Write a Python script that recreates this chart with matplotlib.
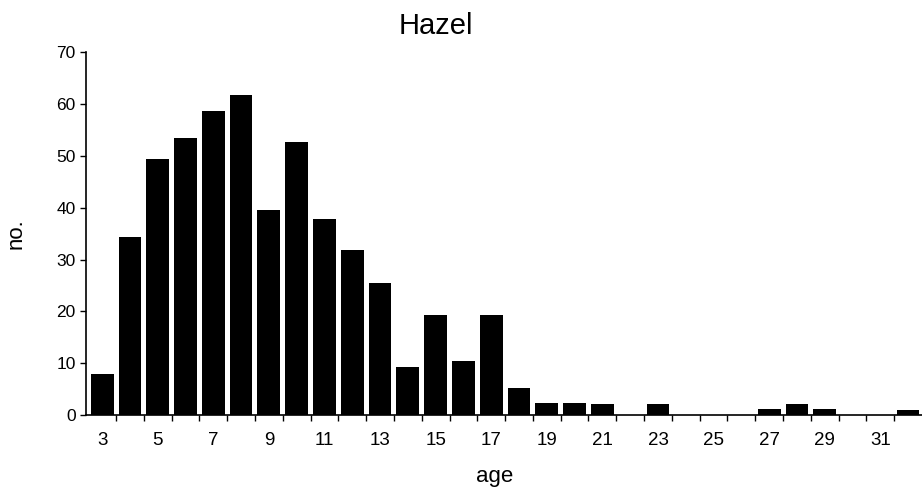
import matplotlib
matplotlib.use("Agg")
import matplotlib.pyplot as plt
import numpy as np

plt.rcParams['font.family'] = ['Liberation Sans', 'DejaVu Sans']

ages = list(range(3, 33))
counts = [8, 34.4, 49.4, 53.5, 58.6, 61.8, 39.6, 52.7, 37.8, 31.9,
          25.4, 9.3, 19.3, 10.4, 19.3, 5.3, 2.3, 2.3, 2.1, 0,
          2.1, 0, 0, 0, 1.2, 2.1, 1.1, 0, 0, 1.0]
xtick_labels = [str(a) for a in range(3, 32, 2)]
yticks = [0, 10, 20, 30, 40, 50, 60, 70]

fig = plt.figure(figsize=(9.22, 4.88), dpi=100)
ax = fig.add_axes([86/922, 73/488, 1 - 86/922, (415-52.4)/488])

ax.bar(ages, counts, width=0.82, color='black', edgecolor='none')

ax.set_xlim(2.42, 32.5)
ax.set_ylim(0, 70)

for s in ['top', 'right']:
    ax.spines[s].set_visible(False)
for s in ['left', 'bottom']:
    ax.spines[s].set_linewidth(1.2)

ax.set_xticks(range(3, 32, 2))
ax.set_xticklabels(xtick_labels)
ax.set_xticks(np.arange(3.5, 32, 1.0), minor=True)
ax.tick_params(axis='x', which='major', length=0, pad=12, labelsize=13.5)
ax.tick_params(axis='x', which='minor', length=4, width=1, direction='out')

ax.set_yticks(yticks)
ax.tick_params(axis='y', which='major', length=4, width=1, direction='out', pad=3.5, labelsize=12.5)

ax.set_xlabel('age', fontsize=16)
ax.xaxis.set_label_coords(0.489, -0.142)
ax.set_ylabel('no.', fontsize=16)
ax.yaxis.set_label_coords(-0.071, 0.5)

fig.text(436/922, 1 - 34/488, 'Hazel', ha='center', va='baseline', fontsize=21)

fig.savefig('out.png', dpi=100)
